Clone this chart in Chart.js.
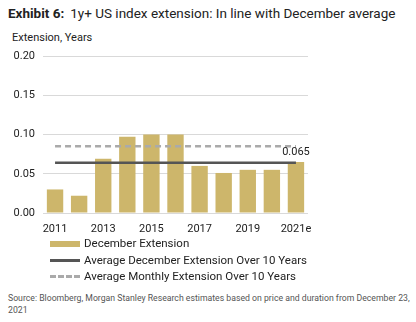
<!DOCTYPE html>
<html>
<head>
<meta charset="utf-8">
<script src="https://cdn.jsdelivr.net/npm/chart.js@4"></script>
<style>
  body { margin: 0; width: 416px; height: 322px; background: #fff; font-family: Roboto, "Liberation Sans", sans-serif; color: #222; position: relative; overflow: hidden; }
  .title { position: absolute; left: 8px; top: 5px; font-size: 13.5px; white-space: nowrap; }
  .title b { margin-right: 6px; }
  .unit { position: absolute; left: 12px; top: 31px; font-size: 11px; }
  .chart { position: absolute; left: 0; top: 40px; width: 330px; height: 205px; }
  .legend { position: absolute; left: 50px; top: 235px; font-size: 11.5px; }
  .legend div { height: 16.5px; line-height: 16.5px; white-space: nowrap; }
  .legend span.sw { display: inline-block; width: 30px; margin-right: 4px; vertical-align: middle; }
  .source { position: absolute; left: 8px; top: 292px; font-size: 8.7px; line-height: 12px; color: #555; width: 408px; }
</style>
</head>
<body>
<div class="title"><b>Exhibit 6:</b>1y+ US index extension: In line with December average</div>
<div class="unit">Extension, Years</div>
<div class="chart"><canvas id="extChart"></canvas></div>
<div class="legend">
  <div><span class="sw" style="height:6px;background:#cdb66b"></span>December Extension</div>
  <div><span class="sw" style="height:0;border-top:3px solid #555"></span>Average December Extension Over 10 Years</div>
  <div><span class="sw" style="height:0;border-top:3px dashed #aaa"></span>Average Monthly Extension Over 10 Years</div>
</div>
<div class="source">Source: Bloomberg, Morgan Stanley Research estimates based on price and duration from December 23, 2021</div>
<script>
const years = ['2011', '2012', '2013', '2014', '2015', '2016', '2017', '2018', '2019', '2020', '2021e'];
const decExtension = [0.030, 0.022, 0.069, 0.097, 0.100, 0.100, 0.060, 0.051, 0.055, 0.055, 0.065];
const avgDecember = [0.064, 0.064, 0.064, 0.064, 0.064, 0.064, 0.064, 0.064, 0.064, 0.064, 0.064];
const avgMonthly = [0.085, 0.085, 0.085, 0.085, 0.085, 0.085, 0.085, 0.085, 0.085, 0.085, 0.085];
const yTicks = [0, 0.05, 0.10, 0.15, 0.20];

// value label over the last bar
const lastLabel = {
  id: 'lastLabel',
  afterDatasetsDraw(chart) {
    const meta = chart.getDatasetMeta(2);
    const bar = meta.data[meta.data.length - 1];
    const v = decExtension[decExtension.length - 1];
    const ctx = chart.ctx;
    ctx.save();
    ctx.font = '11px Roboto';
    ctx.fillStyle = '#222';
    ctx.textAlign = 'center';
    ctx.textBaseline = 'bottom';
    ctx.fillText(v.toFixed(3), bar.x, bar.y - 4);
    ctx.restore();
  }
};

new Chart(document.getElementById('extChart'), {
  type: 'bar',
  data: {
    labels: years,
    datasets: [
      {
        type: 'line',
        data: avgMonthly,
        borderColor: '#aaaaaa',
        borderWidth: 2.5,
        borderDash: [6, 4],
        pointRadius: 0,
        order: 0
      },
      {
        type: 'line',
        data: avgDecember,
        borderColor: '#555555',
        borderWidth: 2.5,
        pointRadius: 0,
        order: 0
      },
      {
        data: decExtension,
        backgroundColor: '#cdb66b',
        categoryPercentage: 1,
        barPercentage: 0.68,
        order: 1
      }
    ]
  },
  options: {
    responsive: true,
    maintainAspectRatio: false,
    animation: false,
    layout: { padding: { top: 16, right: 22, left: 0, bottom: 0 } },
    plugins: { legend: { display: false }, tooltip: { enabled: false } },
    scales: {
      x: {
        grid: { display: false },
        border: { display: false },
        ticks: {
          font: { family: 'Roboto', size: 11 },
          color: '#222',
          padding: 2,
          autoSkip: false,
          maxRotation: 0,
          callback: (val, i) => (i % 2 === 0 ? years[i] : '')
        },
        afterFit: (s) => { s.height = 32; }
      },
      y: {
        min: 0,
        max: 0.2,
        afterBuildTicks: (s) => { s.ticks = yTicks.map(v => ({ value: v })); },
        grid: { color: '#d9d9d9', lineWidth: 1, drawTicks: false },
        border: { display: false },
        ticks: {
          font: { family: 'Roboto', size: 11 },
          color: '#222',
          padding: 8,
          callback: (v) => v.toFixed(2)
        },
        afterFit: (s) => { s.width = 43; }
      }
    }
  },
  plugins: [lastLabel]
});
</script>
</body>
</html>
